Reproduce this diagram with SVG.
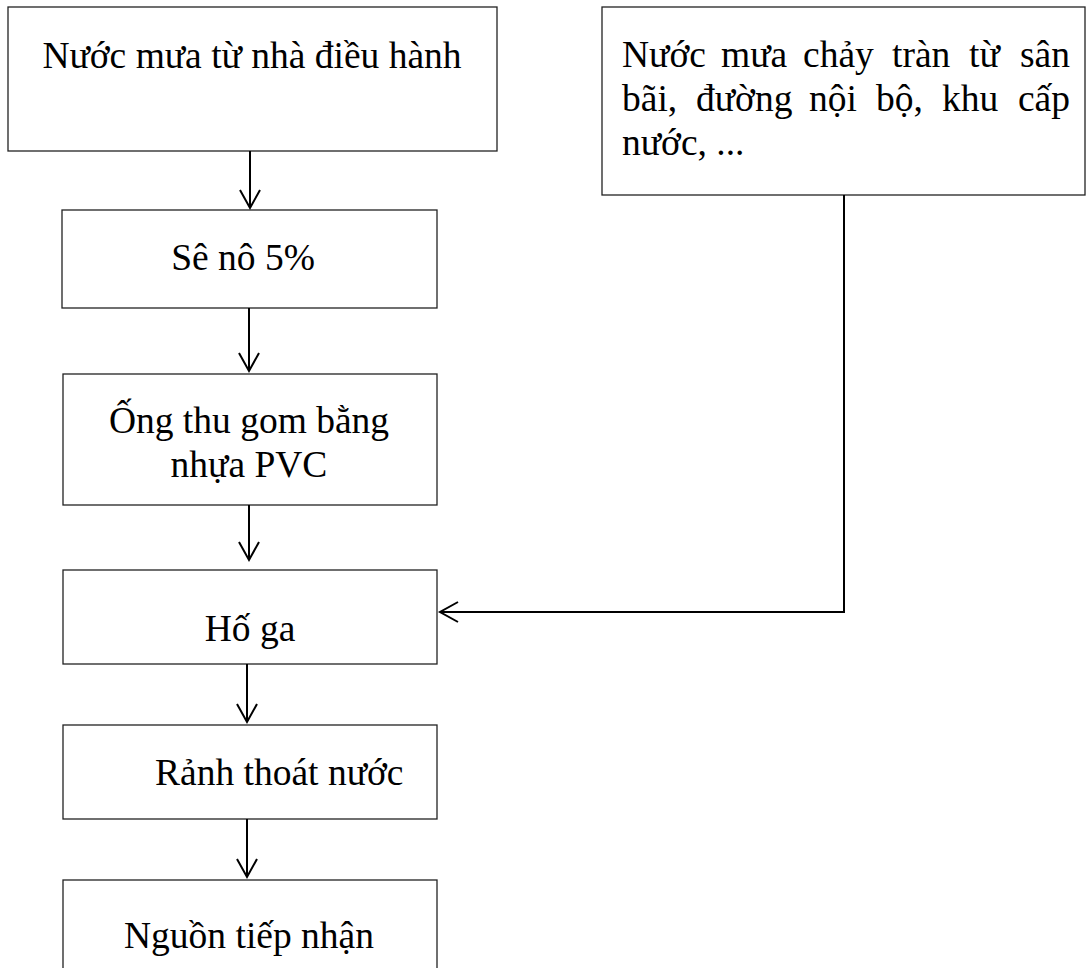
<svg xmlns="http://www.w3.org/2000/svg" width="1086" height="968" viewBox="0 0 1086 968">
<style>
.box{fill:#fff;stroke:#222;stroke-width:1.3}
.t{font-family:"Liberation Serif","Times New Roman",serif;font-size:37.5px;fill:#000}
.c{text-anchor:middle}
.conn{fill:none;stroke:#000;stroke-width:2}
</style>
<defs>
<marker id="arr" markerUnits="userSpaceOnUse" viewBox="-20 -12 24 24" markerWidth="24" markerHeight="24" refX="0" refY="0" orient="auto">
<path d="M-18,-10 L0,0 L-18,10" fill="none" stroke="#000" stroke-width="2"/>
</marker>
</defs>
<rect width="1086" height="968" fill="#fff"/>
<g id="n1"><rect class="box" x="8" y="7" width="489" height="144"/><text class="t c" x="252" y="68">Nước mưa từ nhà điều hành</text></g>
<g id="n2"><rect class="box" x="62" y="210" width="375" height="98"/><text class="t c" x="243" y="270">Sê nô 5%</text></g>
<g id="n3"><rect class="box" x="63" y="374" width="374" height="131"/><text class="t c" x="249" y="433">Ống thu gom bằng</text><text class="t c" x="249" y="477">nhựa PVC</text></g>
<g id="n4"><rect class="box" x="63" y="570" width="374" height="94"/><text class="t c" x="250" y="641">Hố ga</text></g>
<g id="n5"><rect class="box" x="63" y="725" width="374" height="94"/><text class="t" x="155" y="785">Rảnh thoát nước</text></g>
<g id="n6"><rect class="box" x="63" y="880" width="374" height="100"/><text class="t c" x="249" y="948">Nguồn tiếp nhận</text></g>
<g id="n7"><rect class="box" x="602" y="7" width="483" height="188"/>
<text class="t" y="67"><tspan x="622">Nước</tspan><tspan x="721">mưa</tspan><tspan x="803">chảy</tspan><tspan x="892">tràn</tspan><tspan x="969">từ</tspan><tspan x="1070" text-anchor="end">sân</tspan></text>
<text class="t" y="111"><tspan x="622">bãi,</tspan><tspan x="696">đường</tspan><tspan x="809">nội</tspan><tspan x="876">bộ,</tspan><tspan x="942">khu</tspan><tspan x="1070" text-anchor="end">cấp</tspan></text>
<text class="t" x="622" y="155">nước, ...</text>
</g>
<g id="connectors">
<path class="conn" d="M250,151 V208" marker-end="url(#arr)"/>
<path class="conn" d="M249,308 V371" marker-end="url(#arr)"/>
<path class="conn" d="M249,505 V560" marker-end="url(#arr)"/>
<path class="conn" d="M247,664 V722" marker-end="url(#arr)"/>
<path class="conn" d="M247,819 V877" marker-end="url(#arr)"/>
<path class="conn" d="M844,195 V612 H440" marker-end="url(#arr)"/>
</g>
</svg>
